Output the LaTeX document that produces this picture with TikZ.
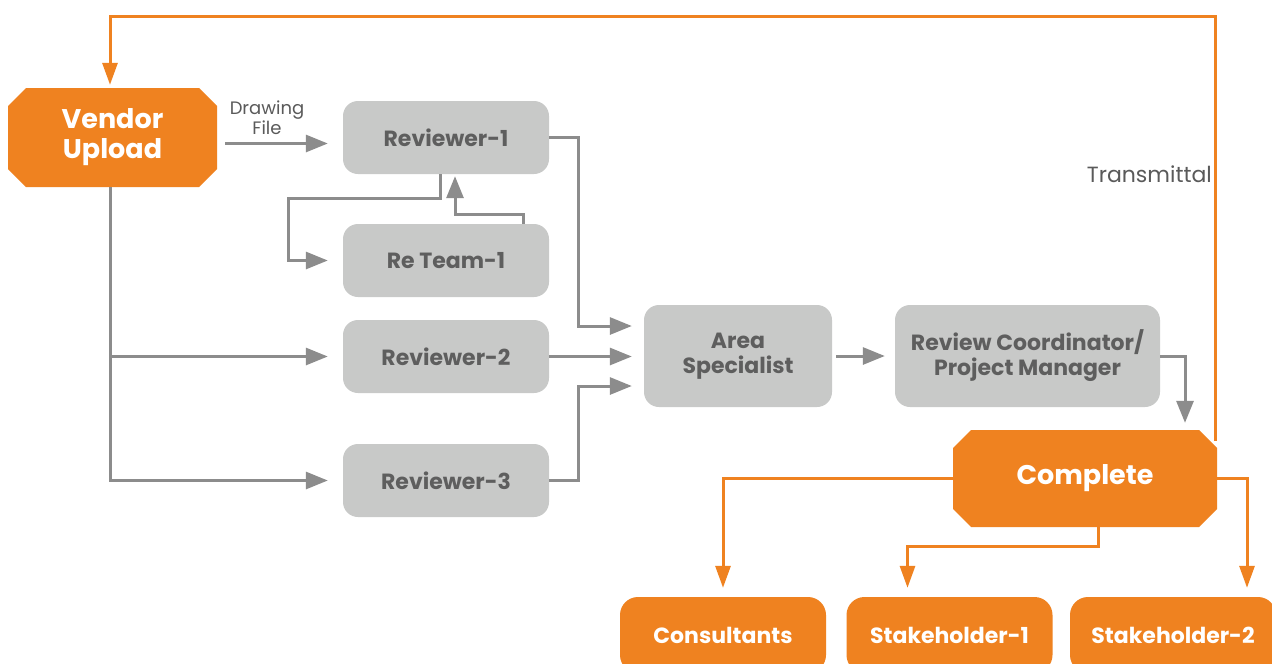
\documentclass[tikz,border=0pt]{standalone}
\usepackage{fontspec}
\setmainfont{Poppins}
\usetikzlibrary{arrows.meta,calc}
\definecolor{org}{RGB}{239,130,32}
\definecolor{gbox}{RGB}{200,201,200}
\definecolor{gtext}{RGB}{94,94,94}
\definecolor{garr}{RGB}{140,140,140}
\definecolor{ltext}{RGB}{90,90,90}
\begin{document}
\begin{tikzpicture}[x=1pt,y=-1pt,
  gboxst/.style={fill=gbox,rounded corners=15pt,text=gtext,font=\bfseries\fontsize{22}{25}\selectfont,align=center,inner sep=0pt},
  octst/.style={rectangle,inner sep=0pt,text=white,font=\bfseries\fontsize{27}{30}\selectfont,align=center,
    path picture={\fill[org]
      ([xshift=18pt]path picture bounding box.north west) --
      ([xshift=-18pt]path picture bounding box.north east) --
      ([yshift=-18pt]path picture bounding box.north east) --
      ([yshift=18pt]path picture bounding box.south east) --
      ([xshift=-18pt]path picture bounding box.south east) --
      ([xshift=18pt]path picture bounding box.south west) --
      ([yshift=18pt]path picture bounding box.south west) --
      ([yshift=-18pt]path picture bounding box.north west) -- cycle;}},
  obot/.style={fill=org,rounded corners=18pt,text=white,font=\bfseries\fontsize{22}{25}\selectfont,inner sep=0pt,minimum width=206pt,minimum height=76pt},
  garrow/.style={draw=garr,line width=3pt,-{Triangle[length=22pt,width=17pt]}},
  oarrow/.style={draw=org,line width=3pt,-{Triangle[length=22pt,width=15pt]}},
  smalltxt/.style={text=ltext,font=\fontsize{18}{20}\selectfont,align=center,inner sep=0pt},
  ]
\path[use as bounding box,fill=white] (0,0) rectangle (1272,664);
% nodes
\node[octst,minimum width=209pt,minimum height=99pt] (vu) at (112.5,137.5) {Vendor\\Upload};
\node[gboxst,minimum width=206pt,minimum height=73pt] (r1) at (446,137.5) {Reviewer-1};
\node[gboxst,minimum width=206pt,minimum height=73pt] (rt) at (446,260.5) {Re Team-1};
\node[gboxst,minimum width=206pt,minimum height=73pt] (r2) at (446,356.5) {Reviewer-2};
\node[gboxst,minimum width=206pt,minimum height=73pt] (r3) at (446,480.5) {Reviewer-3};
\node[gboxst,minimum width=188pt,minimum height=102pt] (as) at (738,356) {Area\\Specialist};
\node[gboxst,minimum width=265pt,minimum height=102pt] (rc) at (1027.5,356) {Review Coordinator/\\Project Manager};
\node[octst,minimum width=264pt,minimum height=97pt] (cp) at (1085,478.5) {Complete};
\node[obot] (cons) at (723,635) {Consultants};
\node[obot] (sh1) at (949.5,635) {Stakeholder-1};
\node[obot] (sh2) at (1173,635) {Stakeholder-2};
\node[smalltxt] (dfl) at (267,118) {Drawing\\File};
\node[text=ltext,font=\fontsize{22}{24}\selectfont,anchor=east,inner sep=0pt] (tml) at (1212,174) {Transmittal};
% connectors
\draw[garrow,shorten <=8pt,shorten >=15pt] ([yshift=-6pt]vu.east) -- ([yshift=-6pt]r1.west);
\draw[garrow,shorten >=15pt] ([xshift=-2.5pt]vu.south) |- (r3.west);
\draw[garrow,shorten >=15pt] ([xshift=-2.5pt]vu.south |- r2.west) -- (r2.west);
\draw[garrow,shorten >=15pt] ([xshift=-6pt]r1.south) -- ++(0,24) -- ++(-152,0) |- (rt.west);
\draw[garrow,shorten >=2pt] ([xshift=77pt]rt.north) -- ++(0,-9) -| ([xshift=9pt]r1.south);
\draw[garrow,shorten >=12pt] (r1.east) -- ++(29,0) |- ([yshift=30pt]as.west);
\draw[garrow,shorten >=12pt] (r2.east) -- (r2.east -| as.west);
\draw[garrow,shorten >=12pt] (r3.east) -- ++(29,0) |- ([yshift=-30pt]as.west);
\draw[garrow,shorten <=4pt,shorten >=10pt] (as.east) -- (rc.west);
\draw[garrow,shorten >=7pt] (rc.east) -| ([xshift=100pt]cp.north);
\draw[oarrow,shorten >=3pt] ([xshift=130pt,yshift=38pt]cp.center) -- ++(0,-424) -| ([xshift=-2.5pt]vu.north);
\draw[oarrow,shorten >=9pt] (cp.west) -| (cons.north);
\draw[oarrow,shorten >=9pt] ([xshift=13pt]cp.south) -- ++(0,19) -| ([xshift=-42pt]sh1.north);
\draw[oarrow,shorten >=9pt] (cp.east) -| ([xshift=74pt]sh2.north);
\end{tikzpicture}
\end{document}
